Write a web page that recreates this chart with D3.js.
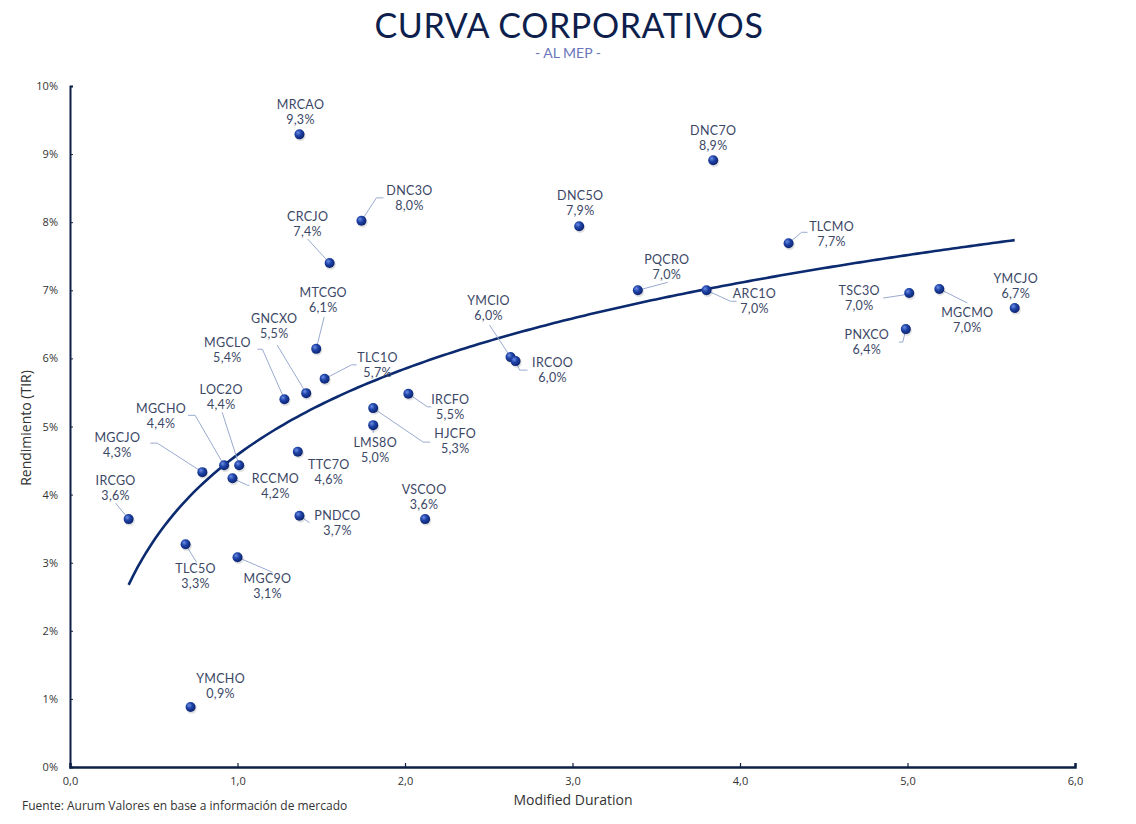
<!DOCTYPE html>
<html><head><meta charset="utf-8">
<script src="https://cdn.jsdelivr.net/npm/d3@7"></script>
<style>body{margin:0;background:#fff}svg{display:block}</style>
</head><body>
<script>
// ---- data ----
const bonds = ["MRCAO","DNC7O","DNC3O","DNC5O","CRCJO","TLCMO","PQCRO","ARC1O","TSC3O","MGCMO","YMCJO","PNXCO","YMCIO","IRCOO","MTCGO","TLC1O","GNCXO","MGCLO","IRCFO","HJCFO","LMS8O","TTC7O","LOC2O","MGCHO","MGCJO","RCCMO","IRCGO","PNDCO","VSCOO","TLC5O","MGC9O","YMCHO"];
const durations = [1.37,3.84,1.74,3.04,1.55,4.29,3.39,3.80,5.01,5.19,5.64,4.99,2.63,2.66,1.47,1.52,1.41,1.28,2.02,1.81,1.81,1.36,1.01,0.92,0.79,0.97,0.35,1.37,2.12,0.69,1.00,0.72];
const yields =    [9.29,8.91,8.02,7.94,7.40,7.69,7.00,7.00,6.96,7.02,6.74,6.43,6.02,5.96,6.14,5.70,5.49,5.40,5.48,5.27,5.02,4.63,4.43,4.43,4.33,4.24,3.64,3.69,3.64,3.27,3.08,0.88];
const xTicks = [0,1,2,3,4,5,6];
const yTicks = [0,1,2,3,4,5,6,7,8,9,10];

// ---- label layout (offsets from each point, px) ----
const labelLayout = {
  MRCAO:[1,-29,[]], DNC7O:[0,-29,[]], DNC3O:[48,-30,[[15,-23],[22,-23]]], DNC5O:[1,-30,[]],
  CRCJO:[-22,-46,[[-22,-24]]], TLCMO:[43,-16,[[13,-11],[19,-11]]], PQCRO:[29,-30,[[30,-8]]],
  ARC1O:[48,4,[[24,11],[30,11]]], TSC3O:[-50,-2,[[-6,2],[-26,5]]], MGCMO:[28,24,[[28,14]]],
  YMCJO:[1,-29,[]], PNXCO:[-39,6,[[-3,13],[-7,13]]], YMCIO:[-22,-56,[[-21,-32]]],
  IRCOO:[37,2,[[4,9],[12,9]]], MTCGO:[7,-56,[[8,-32]]], TLC1O:[53,-21,[[27,-14],[32,-14]]],
  GNCXO:[-32,-74,[[-29,-48]]], MGCLO:[-57,-56,[[-22,-50],[-27,-50]]], IRCFO:[42,6,[[19,13],[23,13]]],
  HJCFO:[82,26,[[50,34],[57,34]]], LMS8O:[2,18,[[0,8]]], TTC7O:[31,13,[]],
  LOC2O:[-18,-75,[[-17,-53]]], MGCHO:[-63,-56,[[-29,-50],[-36,-50]]], MGCJO:[-85,-34,[[-45,-29],[-52,-29]]],
  RCCMO:[43,1,[[15,7],[17,7]]], IRCGO:[-13,-38,[[-13,-16]]], PNDCO:[38,0,[[10,7]]],
  VSCOO:[-1,-29,[]], TLC5O:[10,25,[[11,18]]], MGC9O:[30,22,[[35,15]]], YMCHO:[30,-28,[]]
};

const W = 1136, H = 824;
const m = {left:70, right:61, top:86, bottom:57};
const svg = d3.select("body").append("svg").attr("width",W).attr("height",H);
const defs = svg.append("defs");
const g0 = defs.append("radialGradient").attr("id","ball").attr("cx","40%").attr("cy","38%").attr("r","65%").attr("fx","35%").attr("fy","32%");
g0.append("stop").attr("offset","0%").attr("stop-color","#6f8fe6");
g0.append("stop").attr("offset","45%").attr("stop-color","#1f44a8");
g0.append("stop").attr("offset","100%").attr("stop-color","#0a216b");

const x = d3.scaleLinear().domain([0,6]).range([m.left, W-m.right]);
const y = d3.scaleLinear().domain([0,10]).range([H-m.bottom, m.top]);
const comma = s => s.replace(".",",");
const navy = "#0d1f45";

// title
svg.append("text").attr("x",569).attr("y",38).attr("text-anchor","middle")
  .attr("font-family","Lato, 'Noto Sans', sans-serif").attr("font-size",34).attr("fill","#0e1f4d")
  .attr("letter-spacing",0.6).text("CURVA CORPORATIVOS");
svg.append("text").attr("x",568).attr("y",58).attr("text-anchor","middle")
  .attr("font-family","Lato, 'Noto Sans', sans-serif").attr("font-size",14).attr("fill","#6a76b8")
  .text("- AL MEP -");

// axes
const xa = svg.append("g").attr("transform",`translate(0,${H-m.bottom})`)
  .call(d3.axisBottom(x).tickValues(xTicks).tickSize(-4).tickPadding(10).tickFormat(d=>comma(d3.format(".1f")(d))));
xa.select(".domain").attr("stroke",navy).attr("stroke-width",2.5);
xa.selectAll(".tick line").attr("stroke",navy).attr("stroke-width",1.2);
xa.selectAll("text").attr("font-family","'Open Sans', sans-serif").attr("font-size",11).attr("fill","#333");

const ya = svg.append("g").attr("transform",`translate(${m.left},0)`)
  .call(d3.axisLeft(y).tickValues(yTicks).tickSize(-3).tickPadding(12).tickFormat(d=>d+"%"));
ya.select(".domain").attr("stroke",navy).attr("stroke-width",2);
ya.selectAll(".tick line").attr("stroke",navy).attr("stroke-width",1);
ya.selectAll("text").attr("font-family","'Open Sans', sans-serif").attr("font-size",11).attr("fill","#333");

svg.append("text").attr("x",573).attr("y",805).attr("text-anchor","middle")
  .attr("font-family","'Open Sans', sans-serif").attr("font-size",14).attr("fill","#333").text("Modified Duration");
svg.append("text").attr("transform","translate(31,428) rotate(-90)").attr("text-anchor","middle")
  .attr("font-family","'Open Sans', sans-serif").attr("font-size",14).attr("fill","#333").text("Rendimiento (TIR)");
svg.append("text").attr("x",22).attr("y",810)
  .attr("font-family","'Open Sans', sans-serif").attr("font-size",12).attr("fill","#333")
  .text("Fuente: Aurum Valores en base a información de mercado");

// logarithmic trend line (least squares y = a + b ln x)
const pts = durations.map((d,i)=>[d,yields[i]]);
const lx = pts.map(p=>Math.log(p[0])), ly = pts.map(p=>p[1]);
const mx = d3.mean(lx), my = d3.mean(ly);
const b = d3.sum(lx.map((v,i)=>(v-mx)*(ly[i]-my))) / d3.sum(lx.map(v=>(v-mx)*(v-mx)));
const a = my - b*mx;
const xmin = d3.min(durations), xmax = d3.max(durations);
const trend = d3.range(0,201).map(i=>{const t = xmin + (xmax-xmin)*i/200; return [t, a + b*Math.log(t)];});
svg.append("path").datum(trend)
  .attr("d", d3.line().x(d=>x(d[0])).y(d=>y(d[1])))
  .attr("fill","none").attr("stroke","#0b2a6f").attr("stroke-width",2.6);

// leaders
const lg = svg.append("g");
bonds.forEach((n,i)=>{
  const L = labelLayout[n]; if(!L[2].length) return;
  const px = x(durations[i]), py = y(yields[i]);
  const path = [[px,py]].concat(L[2].map(p=>[px+p[0],py+p[1]]));
  lg.append("path").attr("d",d3.line()(path)).attr("fill","none").attr("stroke","#9aaad0").attr("stroke-width",1);
});

// points
const pg = svg.append("g");
bonds.forEach((n,i)=>{
  const px = x(durations[i]), py = y(yields[i]);
  pg.append("circle").attr("cx",px+1).attr("cy",py+1.5).attr("r",5.2).attr("fill","#000").attr("opacity",0.12);
  pg.append("circle").attr("cx",px).attr("cy",py).attr("r",5).attr("fill","url(#ball)");
});

// labels
const tg = svg.append("g").attr("font-family","Lato, 'Open Sans', sans-serif").attr("font-size",12.5).attr("fill","#3b4766").attr("text-anchor","middle").attr("letter-spacing",0.3);
bonds.forEach((n,i)=>{
  const L = labelLayout[n];
  const px = x(durations[i]) + L[0], py = y(yields[i]) + L[1];
  tg.append("text").attr("x",px).attr("y",py+4).text(n);
  tg.append("text").attr("x",px).attr("y",py+19).text(comma(d3.format(".1f")(yields[i]))+"%");
});
</script>
</body></html>
